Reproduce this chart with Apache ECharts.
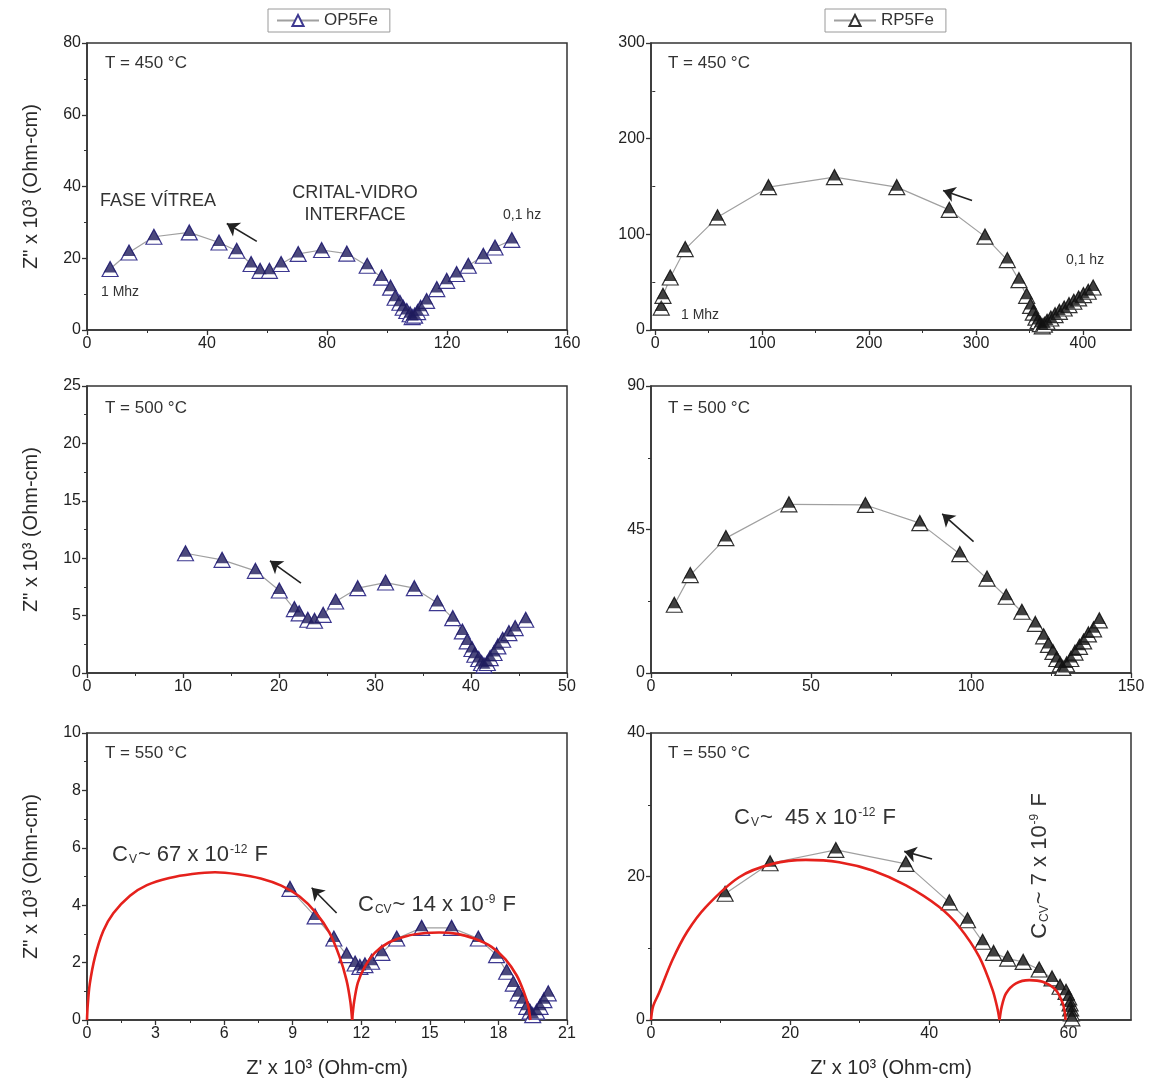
<!DOCTYPE html>
<html>
<head>
<meta charset="utf-8">
<script src="https://cdn.jsdelivr.net/npm/echarts@6/dist/echarts.min.js"></script>
<style>
  html, body { margin: 0; padding: 0; background: #fff; }
  #chart { width: 1155px; height: 1084px; }
</style>
</head>
<body>
<div id="chart"></div>
<script>
const FONT = '"Liberation Sans", Arial, Helvetica, sans-serif';

// ---- Impedance spectra (Z' , Z'' in 10^3 Ohm-cm) ----
// OP5Fe, T = 450 °C
const op450X = [7.7, 14, 22.3, 34.1, 44, 49.9, 54.7, 57.7, 60.8, 64.7, 70.4, 78.2, 86.6, 93.4, 98.2, 101.2, 102.7, 104.3, 105.4, 106.6, 107.7, 108.4, 109.2, 110.2, 111.2, 113.2, 116.6, 119.9, 123.2, 127.1, 132.1, 136, 141.6];
const op450Y = [17.0, 21.6, 26.0, 27.2, 24.4, 22.1, 18.4, 16.5, 16.5, 18.4, 21.2, 22.3, 21.3, 17.9, 14.6, 11.8, 9.0, 7.6, 6.2, 5.3, 4.4, 3.6, 4.0, 5.0, 6.2, 8.1, 11.4, 13.7, 15.6, 17.9, 20.7, 23.0, 25.1];
// RP5Fe, T = 450 °C
const rp450X = [5.6, 7.2, 14, 28, 58.2, 105.9, 167.6, 225.9, 275, 308.4, 329.3, 340.2, 347.4, 351.1, 353.6, 356.1, 358.2, 360.2, 362, 364, 366.5, 370, 374, 378, 382.5, 387, 391.5, 396, 400.5, 405, 409.6];
const rp450Y = [23.4, 35.7, 54.9, 84.6, 117.8, 149.3, 159.8, 149.3, 125.6, 97.6, 73.1, 52.1, 35.7, 25.2, 18.1, 12.9, 9.4, 6.2, 3.8, 5.5, 8.5, 12.0, 15.5, 19.0, 22.5, 26.0, 29.5, 33.0, 36.5, 40.0, 44.4];
// OP5Fe, T = 500 °C
const op500X = [10.26, 14.07, 17.54, 20.03, 21.6, 22.1, 23.0, 23.7, 24.6, 25.9, 28.2, 31.1, 34.1, 36.5, 38.1, 39.1, 39.6, 40.1, 40.4, 40.8, 41.1, 41.35, 41.7, 42.0, 42.4, 42.8, 43.3, 43.95, 44.6, 45.7];
const op500Y = [10.43, 9.86, 8.9, 7.19, 5.57, 5.2, 4.64, 4.55, 5.07, 6.23, 7.39, 7.88, 7.39, 6.09, 4.78, 3.62, 2.75, 2.09, 1.59, 1.22, 0.87, 0.67, 0.87, 1.3, 1.74, 2.32, 2.9, 3.48, 3.91, 4.64];
// RP5Fe, T = 500 °C
const rp500X = [7.28, 12.27, 23.4, 43.1, 67.0, 84.0, 96.5, 105, 111, 115.9, 120.1, 122.7, 124.2, 125.6, 126.8, 127.9, 128.7, 129.9, 131.2, 132.5, 133.9, 135.2, 136.7, 138.3, 140.1];
const rp500Y = [21.4, 30.7, 42.3, 52.9, 52.7, 47.0, 37.3, 29.6, 23.9, 19.2, 15.4, 11.5, 8.8, 6.6, 4.4, 2.7, 1.6, 2.7, 4.4, 6.4, 8.2, 9.9, 12.1, 13.7, 16.5];
// OP5Fe, T = 550 °C
const op550X = [8.88, 9.98, 10.8, 11.36, 11.73, 11.94, 12.16, 12.45, 12.9, 13.55, 14.64, 15.95, 17.12, 17.92, 18.36, 18.65, 18.87, 19.06, 19.24, 19.38, 19.5, 19.67, 19.82, 19.99, 20.18];
const op550Y = [4.57, 3.61, 2.84, 2.26, 1.97, 1.85, 1.91, 2.03, 2.34, 2.84, 3.21, 3.21, 2.84, 2.26, 1.68, 1.27, 0.93, 0.69, 0.46, 0.29, 0.17, 0.29, 0.46, 0.69, 0.93];
// RP5Fe, T = 550 °C
const rp550X = [10.65, 17.12, 26.57, 36.64, 42.88, 45.5, 47.67, 49.25, 51.27, 53.5, 55.8, 57.65, 58.8, 59.66, 60.04, 60.24, 60.33, 60.43, 60.5];
const rp550Y = [17.6, 21.85, 23.7, 21.76, 16.4, 13.9, 10.9, 9.35, 8.56, 8.1, 7.04, 5.8, 4.63, 3.93, 3.15, 2.31, 1.62, 0.93, 0.23];

// ---- Fitted arcs (glass phase and crystal-glass interface) ----
const op550ArcGlassX = [0, 0.03, 0.12, 0.35, 0.71, 1.15, 1.88, 2.62, 3.6, 4.6, 5.6, 6.6, 7.6, 8.5, 9.3, 10.0, 10.6, 11.05, 11.35, 11.52, 11.6];
const op550ArcGlassY = [0, 0.5, 1.25, 2.2, 3.1, 3.72, 4.33, 4.7, 4.95, 5.09, 5.15, 5.08, 4.93, 4.68, 4.3, 3.75, 3.05, 2.2, 1.4, 0.65, 0];
const op550ArcIfaceX = [11.6, 11.68, 11.85, 12.15, 12.6, 13.2, 14.0, 14.8, 15.4, 16.2, 17.0, 17.7, 18.3, 18.8, 19.1, 19.3, 19.4];
const op550ArcIfaceY = [0, 0.6, 1.3, 1.85, 2.35, 2.7, 2.93, 3.03, 3.05, 3.0, 2.82, 2.55, 2.12, 1.55, 1.0, 0.5, 0];
const rp550ArcGlassX = [0, 0.3, 1.15, 3.06, 5.2, 7.87, 12.66, 17.45, 22.26, 27.05, 31.84, 36.65, 41.44, 44.32, 47.19, 49.11, 49.8, 50.1];
const rp550ArcGlassY = [0, 1.9, 3.75, 8.33, 12.3, 15.74, 19.9, 21.76, 22.32, 21.99, 20.83, 18.75, 15.74, 12.96, 8.79, 4.17, 1.6, 0];
const rp550ArcIfaceX = [50.1, 50.4, 51.03, 52.47, 54.39, 56.3, 58.2, 59.2, 59.5, 59.6];
const rp550ArcIfaceY = [0, 1.8, 3.7, 5.1, 5.56, 5.32, 4.17, 2.3, 1.0, 0];

// ---- Axis tick labels ----
const xTicks = {
  op450: [0, 40, 80, 120, 160], rp450: [0, 100, 200, 300, 400],
  op500: [0, 10, 20, 30, 40, 50], rp500: [0, 50, 100, 150],
  op550: [0, 3, 6, 9, 12, 15, 18, 21], rp550: [0, 20, 40, 60]
};
const yTicks = {
  op450: [0, 20, 40, 60, 80], rp450: [0, 100, 200, 300],
  op500: [0, 5, 10, 15, 20, 25], rp500: [0, 45, 90],
  op550: [0, 2, 4, 6, 8, 10], rp550: [0, 20, 40]
};

const zip = (xs, ys) => xs.map((x, i) => [x, ys[i]]);

const grids = [
  { left: 87, top: 43, width: 480, height: 287 },
  { left: 651, top: 43, width: 480, height: 287 },
  { left: 87, top: 386, width: 480, height: 287 },
  { left: 651, top: 386, width: 480, height: 287 },
  { left: 87, top: 733, width: 480, height: 287 },
  { left: 651, top: 733, width: 480, height: 287 }
].map(g => Object.assign(g, { show: true, borderColor: '#333', borderWidth: 1.5, backgroundColor: 'transparent' }));

const AXIS_COLOR = '#333';
function axis(gridIndex, min, max, majors, extra) {
  const minors = [];
  for (let i = 0; i + 1 < majors.length; i++) minors.push((majors[i] + majors[i + 1]) / 2);
  return Object.assign({
    type: 'value', gridIndex, min, max,
    axisLine: { show: true, onZero: false, lineStyle: { color: AXIS_COLOR, width: 1.5 } },
    axisTick: { show: true, length: 5, customValues: majors, lineStyle: { color: AXIS_COLOR, width: 1.3 } },
    axisLabel: { show: true, customValues: majors, color: '#222', fontSize: 16, fontFamily: FONT, margin: 6 },
    splitLine: { show: false },
    _minors: minors
  }, extra || {});
}
// companion axis that only draws the short intermediate ticks
function minorAxis(base, position) {
  return {
    type: 'value', gridIndex: base.gridIndex, min: base.min, max: base.max, position,
    axisLine: { show: false }, axisLabel: { show: false }, splitLine: { show: false },
    axisTick: { show: true, length: 3, customValues: base._minors, lineStyle: { color: AXIS_COLOR, width: 1 } },
    silent: true
  };
}

const yName = 'Z" x 10³ (Ohm-cm)';
const xName = "Z' x 10³ (Ohm-cm)";
const nameStyle = { fontSize: 20, color: '#2a2a2a', fontFamily: FONT };

const xMain = [
  axis(0, 0, 160, xTicks.op450),
  axis(1, -4, 445, xTicks.rp450),
  axis(2, 0, 50, xTicks.op500),
  axis(3, 0, 150, xTicks.rp500),
  axis(4, 0, 21, xTicks.op550, { name: xName, nameLocation: 'middle', nameGap: 38, nameTextStyle: nameStyle }),
  axis(5, 0, 69, xTicks.rp550, { name: xName, nameLocation: 'middle', nameGap: 38, nameTextStyle: nameStyle })
];
const yMain = [
  axis(0, 0, 80, yTicks.op450, { name: yName, nameLocation: 'middle', nameGap: 46, nameRotate: 90, nameTextStyle: nameStyle }),
  axis(1, 0, 300, yTicks.rp450),
  axis(2, 0, 25, yTicks.op500, { name: yName, nameLocation: 'middle', nameGap: 46, nameRotate: 90, nameTextStyle: nameStyle }),
  axis(3, 0, 90, yTicks.rp500),
  axis(4, 0, 10, yTicks.op550, { name: yName, nameLocation: 'middle', nameGap: 46, nameRotate: 90, nameTextStyle: nameStyle }),
  axis(5, 0, 40, yTicks.rp550)
];
const clean = pos => a => { const c = Object.assign({}, a); delete c._minors; if (!c.position) c.position = pos; return c; };
const xAxes = xMain.concat(xMain.map(a => minorAxis(a, 'bottom'))).map(clean('bottom'));
const yAxes = yMain.concat(yMain.map(a => minorAxis(a, 'left'))).map(clean('left'));

const NAVY = '#1f1b5c', NAVY_EDGE = '#3d3890';
const BLACK = '#111111', BLACK_EDGE = '#333333';

// arrows showing the direction of decreasing frequency, in data coordinates
const arrows = [
  [[56.6, 24.7], [46.6, 29.7]],
  [[296.3, 135.3], [269.2, 145.8]],
  [[22.29, 7.83], [19.06, 9.77]],
  [[100.8, 41.2], [91.0, 49.9]],
  [[10.92, 3.73], [9.83, 4.61]],
  [[40.4, 22.45], [36.4, 23.5]]
];

function spectrum(idx, name, xs, ys, fill, edge) {
  const data = zip(xs, ys);
  return [
    {
      type: 'line', name, xAxisIndex: idx, yAxisIndex: idx, data,
      symbol: 'triangle', symbolSize: [16, 15], showAllSymbol: true,
      itemStyle: { color: '#ffffff', borderColor: edge, borderWidth: 1.2 },
      lineStyle: { color: '#a0a0a0', width: 1.2 },
      z: 2, animation: false,
      markLine: {
        silent: true, animation: false,
        symbol: ['none', 'arrow'], symbolSize: 12,
        label: { show: false },
        lineStyle: { color: '#222', width: 1.6, type: 'solid' },
        itemStyle: { color: '#222' },
        data: [[{ coord: arrows[idx][0] }, { coord: arrows[idx][1] }]]
      }
    },
    {
      type: 'scatter', name, xAxisIndex: idx, yAxisIndex: idx, data,
      symbol: 'triangle', symbolSize: [13, 11], symbolOffset: [0, -2],
      itemStyle: { color: fill }, z: 3, silent: true, animation: false
    }
  ];
}
function arc(idx, xs, ys) {
  return {
    type: 'line', xAxisIndex: idx, yAxisIndex: idx, data: zip(xs, ys),
    smooth: 0.3, symbol: 'none', lineStyle: { color: '#e5211c', width: 2.6 },
    z: 5, silent: true, animation: false
  };
}

const series = [].concat(
  spectrum(0, 'OP5Fe', op450X, op450Y, NAVY, NAVY_EDGE),
  spectrum(1, 'RP5Fe', rp450X, rp450Y, BLACK, BLACK_EDGE),
  spectrum(2, 'OP5Fe', op500X, op500Y, NAVY, NAVY_EDGE),
  spectrum(3, 'RP5Fe', rp500X, rp500Y, BLACK, BLACK_EDGE),
  spectrum(4, 'OP5Fe', op550X, op550Y, NAVY, NAVY_EDGE),
  spectrum(5, 'RP5Fe', rp550X, rp550Y, BLACK, BLACK_EDGE),
  [arc(4, op550ArcGlassX, op550ArcGlassY), arc(4, op550ArcIfaceX, op550ArcIfaceY),
   arc(5, rp550ArcGlassX, rp550ArcGlassY), arc(5, rp550ArcIfaceX, rp550ArcIfaceY)]
);

const legendBase = {
  orient: 'horizontal', itemWidth: 42, itemHeight: 14, itemGap: 4,
  borderColor: '#9a9a9a', borderWidth: 1, padding: [3, 12, 3, 8],
  textStyle: { fontSize: 17, color: '#333', fontFamily: FONT },
  selectedMode: false
};

// ---- annotations ----
const TXT = '#333';
function txt(x, y, text, size, align) {
  return {
    type: 'text', x, y, silent: true,
    style: { text, fontSize: size, fontFamily: FONT, fill: TXT, verticalAlign: 'middle', align: align || 'left' }
  };
}
function richTxt(x, y, text, size, align, rotation) {
  const el = txt(x, y, text, size, align);
  if (rotation) el.rotation = rotation;
  el.style.rich = {
    a: { fontSize: size, fontFamily: FONT, color: TXT },
    sub: { fontSize: Math.round(size * 0.55), fontFamily: FONT, color: TXT, verticalAlign: 'bottom', padding: [0, 1, 0, 1] },
    sup: { fontSize: Math.round(size * 0.55), fontFamily: FONT, color: TXT, verticalAlign: 'top', padding: [0, 1, 0, 1] }
  };
  return el;
}

const graphic = [
  txt(105, 63, 'T = 450 °C', 17), txt(668, 63, 'T = 450 °C', 17),
  txt(105, 408, 'T = 500 °C', 17), txt(668, 408, 'T = 500 °C', 17),
  txt(105, 753, 'T = 550 °C', 17), txt(668, 753, 'T = 550 °C', 17),
  txt(100, 201, 'FASE VÍTREA', 18),
  txt(355, 193, 'CRITAL-VIDRO', 18, 'center'),
  txt(355, 215, 'INTERFACE', 18, 'center'),
  txt(503, 215, '0,1 hz', 14),
  txt(101, 292, '1 Mhz', 14),
  txt(1066, 260, '0,1 hz', 14),
  txt(681, 315, '1 Mhz', 14),
  richTxt(112, 855, '{a|C}{sub|V}{a|~ 67 x 10}{sup|-12}{a| F}', 22),
  richTxt(358, 905, '{a|C}{sub|CV}{a|~ 14 x 10}{sup|-9}{a| F}', 22),
  richTxt(734, 818, '{a|C}{sub|V}{a|~  45 x 10}{sup|-12}{a| F}', 22),
  richTxt(1040, 866, '{a|C}{sub|CV}{a|~ 7 x 10}{sup|-9}{a| F}', 22, 'center', Math.PI / 2)
];

const option = {
  backgroundColor: '#ffffff',
  animation: false,
  textStyle: { fontFamily: FONT },
  grid: grids,
  xAxis: xAxes,
  yAxis: yAxes,
  legend: [
    Object.assign({ data: ['OP5Fe'], left: 268, top: 9 }, legendBase),
    Object.assign({ data: ['RP5Fe'], left: 825, top: 9 }, legendBase)
  ],
  series,
  graphic
};

const chart = echarts.init(document.getElementById('chart'), null, { renderer: 'canvas' });
chart.setOption(option);
</script>
</body>
</html>
